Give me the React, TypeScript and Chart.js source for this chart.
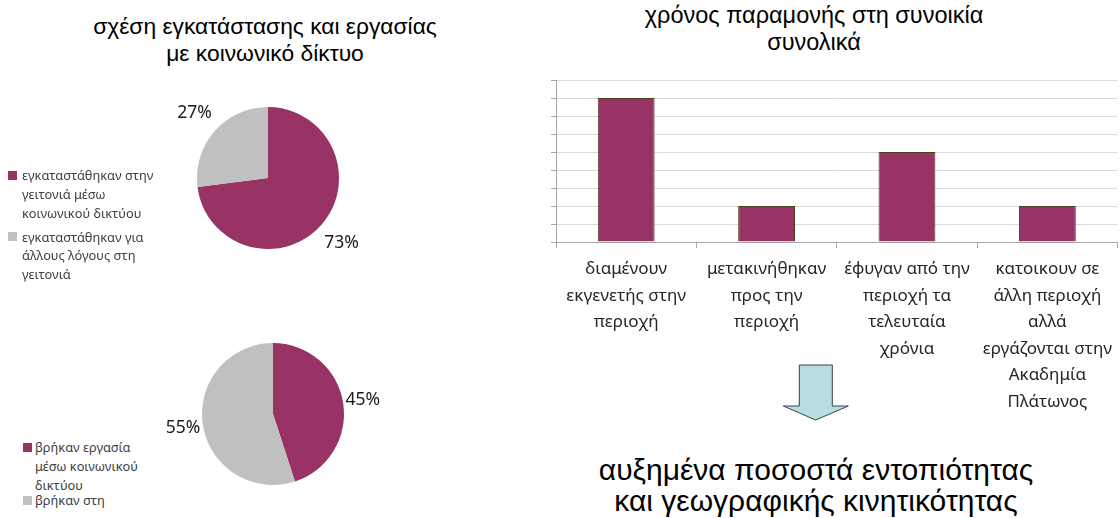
import React, { useEffect, useRef } from "react";
import { Chart, registerables } from "chart.js";

Chart.register(...registerables);

const PLUM = "#993366";
const GREY = "#c0c0c0";

const pie1Labels = ["εγκαταστάθηκαν στην γειτονιά μέσω κοινωνικού δικτύου", "εγκαταστάθηκαν για άλλους λόγους στη γειτονιά"];
const pie1Values = [73, 27];
const pie2Labels = ["βρήκαν εργασία μέσω κοινωνικού δικτύου", "βρήκαν στη"];
const pie2Values = [45, 55];

const barCategories = [
  ["διαμένουν", "εκγενετής στην", "περιοχή"],
  ["μετακινήθηκαν", "προς την", "περιοχή"],
  ["έφυγαν από την", "περιοχή τα", "τελευταία", "χρόνια"],
  ["κατοικουν σε", "άλλη περιοχή", "αλλά", "εργάζονται στην", "Ακαδημία", "Πλάτωνος"],
];
const barValues = [8, 2, 5, 2];
const barMax = 9;

const LABEL_FONT = "'Noto Sans', 'DejaVu Sans', sans-serif";
const TITLE_FONT = "'Liberation Sans', Arial, sans-serif";

function pctPlugin(offset: number) {
  return {
    id: "pct",
    afterDatasetsDraw(chart: any) {
      const ctx = chart.ctx;
      const meta = chart.getDatasetMeta(0);
      const data = chart.data.datasets[0].data as number[];
      const total = data.reduce((a, b) => a + b, 0);
      ctx.save();
      ctx.font = "17.5px " + LABEL_FONT;
      ctx.fillStyle = "#1a1a1a";
      ctx.textAlign = "center";
      ctx.textBaseline = "middle";
      meta.data.forEach((arc: any, i: number) => {
        const p = arc.getProps(["x", "y", "startAngle", "endAngle", "outerRadius"], true);
        const mid = (p.startAngle + p.endAngle) / 2;
        const r = p.outerRadius + offset;
        const pct = Math.round((data[i] / total) * 100) + "%";
        ctx.fillText(pct, p.x + Math.cos(mid) * r, p.y + Math.sin(mid) * r);
      });
      ctx.restore();
    },
  };
}

function PieChart({ labels, values, offset, style }: any) {
  const ref = useRef<HTMLCanvasElement>(null);
  useEffect(() => {
    const chart = new Chart(ref.current!, {
      type: "pie",
      data: {
        labels,
        datasets: [{ data: values, backgroundColor: [PLUM, GREY], borderWidth: 0 }],
      },
      options: {
        animation: false,
        responsive: false,
        events: [],
        layout: { padding: { left: 49, right: 49, top: 29, bottom: 29 } },
        plugins: { legend: { display: false }, tooltip: { enabled: false } },
      },
      plugins: [pctPlugin(offset)],
    });
    return () => chart.destroy();
  }, []);
  return <canvas ref={ref} width={240} height={200} style={{ position: "absolute", ...style }} />;
}

function BarChart() {
  const ref = useRef<HTMLCanvasElement>(null);
  useEffect(() => {
    const chart = new Chart(ref.current!, {
      type: "bar",
      data: {
        labels: barCategories,
        datasets: [
          {
            data: barValues,
            backgroundColor: PLUM,
            borderColor: "#4a3d22",
            borderWidth: 1,
            categoryPercentage: 1,
            barPercentage: 0.405,
          },
        ],
      },
      options: {
        animation: false,
        responsive: false,
        events: [],
        layout: { padding: { top: 10, right: 0, left: 0, bottom: 0 } },
        plugins: { legend: { display: false }, tooltip: { enabled: false } },
        scales: {
          y: {
            min: 0,
            max: barMax,
            ticks: { display: false, stepSize: 1 },
            grid: { color: "#d9d9d9", tickLength: 5, tickColor: "#a6a6a6" },
            border: { color: "#a6a6a6" },
            afterFit: (s: any) => {
              s.width = 26;
            },
          },
          x: {
            grid: { drawOnChartArea: false, tickLength: 6, color: "#a6a6a6", offset: true },
            border: { color: "#a6a6a6" },
            ticks: {
              autoSkip: false,
              maxRotation: 0,
              minRotation: 0,
              padding: 8,
              color: "#262626",
              font: { family: LABEL_FONT, size: 17, lineHeight: "26.5px" as any },
            },
            afterFit: (s: any) => {
              s.height = 178;
            },
          },
        },
      },
    });
    return () => chart.destroy();
  }, []);
  return <canvas ref={ref} width={590} height={350} style={{ position: "absolute", left: 530, top: 70 }} />;
}

function LegendItem({ color, lines, left, top, textLeft, lh }: any) {
  return (
    <div style={{ position: "absolute", left, top }}>
      <div style={{ position: "absolute", left: 0, top: lh / 2 - 4.5, width: 9, height: 9, background: color }} />
      <div
        style={{
          position: "absolute",
          left: textLeft,
          top: 0,
          whiteSpace: "nowrap",
          fontFamily: LABEL_FONT,
          fontSize: 12.8,
          lineHeight: lh + "px",
          color: "#404040",
        }}
      >
        {lines.map((l: string, i: number) => (
          <div key={i}>{l}</div>
        ))}
      </div>
    </div>
  );
}

export default function App() {
  useEffect(() => {
    document.body.style.margin = "0";
  }, []);
  const title: any = {
    position: "absolute",
    textAlign: "center",
    fontFamily: TITLE_FONT,
    color: "#000",
    whiteSpace: "nowrap",
  };
  return (
    <div style={{ position: "fixed", left: 0, top: 0, width: 1120, height: 518, overflow: "hidden", background: "#fff" }}>
      <div style={{ ...title, left: 65, width: 400, top: 13, fontSize: 22.8, lineHeight: "27px" }}>
        σχέση εγκατάστασης και εργασίας
        <br />
        με κοινωνικό δίκτυο
      </div>
      <div style={{ ...title, left: 614, width: 400, top: 2, fontSize: 23.5, lineHeight: "27px" }}>
        χρόνος παραμονής στη συνοικία
        <br />
        συνολικά
      </div>

      <PieChart labels={pie1Labels} values={pie1Values} offset={27} style={{ left: 148, top: 78 }} />
      <PieChart labels={pie2Labels} values={pie2Values} offset={20} style={{ left: 153, top: 314 }} />

      <LegendItem color={PLUM} lines={["εγκαταστάθηκαν στην", "γειτονιά μέσω", "κοινωνικού δικτύου"]} left={8} top={165.5} textLeft={14} lh={19} />
      <LegendItem color={GREY} lines={["εγκαταστάθηκαν για", "άλλους λόγους στη", "γειτονιά"]} left={8} top={227.5} textLeft={14} lh={18.5} />
      <LegendItem color={PLUM} lines={["βρήκαν εργασία", "μέσω κοινωνικού", "δικτύου"]} left={23} top={437.5} textLeft={12} lh={19} />
      <LegendItem color={GREY} lines={["βρήκαν στη"]} left={23} top={491} textLeft={12} lh={18} />

      <BarChart />

      <svg width={80} height={70} style={{ position: "absolute", left: 775, top: 358 }}>
        <polygon
          points="24.3,7 57.3,7 57.3,48 73.3,48 40.7,62 8.3,48 24.3,48"
          fill="#b7dde3"
          stroke="#404040"
          strokeWidth={1}
        />
      </svg>

      <div style={{ ...title, left: 566, width: 500, top: 454, fontSize: 30, lineHeight: "31px" }}>
        αυξημένα ποσοστά εντοπιότητας
        <br />
        και γεωγραφικής κινητικότητας
      </div>
    </div>
  );
}
